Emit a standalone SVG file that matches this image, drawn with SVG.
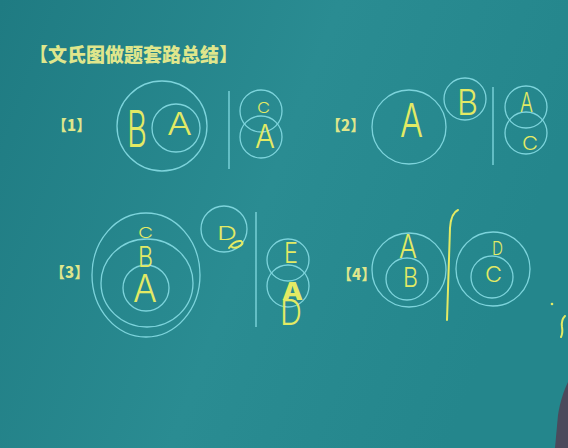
<svg xmlns="http://www.w3.org/2000/svg" width="568" height="448" viewBox="0 0 568 448">
<defs>
<linearGradient id="bg" x1="0" y1="0" x2="1" y2="0.3">
<stop offset="0" stop-color="#1f7b82"/>
<stop offset="0.55" stop-color="#2a8c92"/>
<stop offset="1" stop-color="#24868c"/>
</linearGradient>
<style>
.c{fill:none;stroke:#7dd4dc;stroke-width:1.3}
.v{fill:none;stroke:#7dd4dc;stroke-width:1.4}
.h{fill:#e3ea64;font-family:Inter,"Open Sans","DejaVu Sans",sans-serif;font-weight:300}
.t{fill:#dfe68c;font-family:"Noto Sans CJK SC","Noto Sans CJK JP",sans-serif;font-weight:900}
.m{fill:none;stroke:#e3ea64;stroke-width:2;stroke-linecap:round}
</style>
</defs>
<rect width="568" height="448" fill="url(#bg)"/>
<text class="t" x="29" y="62" font-size="19">【文氏图做题套路总结】</text>
<g id="d1">
<text class="t" x="52" y="131" font-size="15">【1】</text>
<circle class="c" cx="162" cy="126" r="45"/>
<circle class="c" cx="176" cy="128" r="24"/>
<text class="h" x="127" y="147" font-size="50" textLength="20" lengthAdjust="spacingAndGlyphs">B</text>
<text class="h" x="167" y="135" font-size="31" textLength="25" lengthAdjust="spacingAndGlyphs">A</text>
<circle class="c" cx="261" cy="111" r="21"/>
<circle class="c" cx="261" cy="137" r="21"/>
<text class="h" x="257" y="113" font-size="14" textLength="13" lengthAdjust="spacingAndGlyphs">C</text>
<text class="h" x="255" y="148" font-size="32" textLength="20" lengthAdjust="spacingAndGlyphs">A</text>
</g>
<g id="d2">
<text class="t" x="326" y="131" font-size="15">【2】</text>
<circle class="c" cx="409" cy="127" r="37"/>
<text class="h" x="400" y="137" font-size="47" textLength="23" lengthAdjust="spacingAndGlyphs">A</text>
<circle class="c" cx="465" cy="99" r="21"/>
<text class="h" x="457" y="115" font-size="35" textLength="21" lengthAdjust="spacingAndGlyphs">B</text>
<circle class="c" cx="526" cy="107" r="21"/>
<circle class="c" cx="526" cy="133" r="21"/>
<text class="h" x="520" y="112" font-size="27" textLength="13" lengthAdjust="spacingAndGlyphs">A</text>
<text class="h" x="522" y="150" font-size="18" textLength="16" lengthAdjust="spacingAndGlyphs">C</text>
</g>
<g id="d3">
<text class="t" x="50" y="278" font-size="15">【3】</text>
<ellipse class="c" cx="146" cy="275" rx="54" ry="62"/>
<ellipse class="c" cx="147" cy="283" rx="46" ry="44"/>
<circle class="c" cx="146" cy="288" r="23"/>
<text class="h" x="138" y="238" font-size="14" textLength="15" lengthAdjust="spacingAndGlyphs">C</text>
<text class="h" x="138" y="267" font-size="28" textLength="15" lengthAdjust="spacingAndGlyphs">B</text>
<text class="h" x="133" y="302" font-size="38" textLength="24" lengthAdjust="spacingAndGlyphs">A</text>
<circle class="c" cx="224" cy="229" r="23"/>
<text class="h" x="217" y="240" font-size="18" textLength="20" lengthAdjust="spacingAndGlyphs">D</text>
<path class="m" d="M229,248 Q234,240 241,241 Q245,244 238,247 Q233,249 231,246" stroke-width="1.6"/>
<circle class="c" cx="288" cy="260" r="21"/>
<circle class="c" cx="288" cy="286" r="21"/>
<text class="h" x="284" y="263" font-size="28" textLength="14" lengthAdjust="spacingAndGlyphs">E</text>
<text class="h" x="282" y="300" font-size="24" textLength="21" lengthAdjust="spacingAndGlyphs" style="font-weight:800">A</text>
<text class="h" x="280" y="325" font-size="35" textLength="22" lengthAdjust="spacingAndGlyphs">D</text>
</g>
<g id="d4">
<text class="t" x="337" y="280" font-size="15">【4】</text>
<circle class="c" cx="409" cy="270" r="37"/>
<circle class="c" cx="407" cy="279" r="21"/>
<text class="h" x="399" y="258" font-size="32" textLength="18" lengthAdjust="spacingAndGlyphs">A</text>
<text class="h" x="403" y="287" font-size="27" textLength="15" lengthAdjust="spacingAndGlyphs">B</text>
<circle class="c" cx="493" cy="269" r="37"/>
<circle class="c" cx="492" cy="277" r="21"/>
<text class="h" x="492" y="255" font-size="18" textLength="11" lengthAdjust="spacingAndGlyphs">D</text>
<text class="h" x="485" y="282" font-size="21" textLength="17" lengthAdjust="spacingAndGlyphs">C</text>
</g>
<g id="connectors">
<line class="v" x1="229" y1="91" x2="229" y2="169"/>
<line class="v" x1="493" y1="87" x2="493" y2="165"/>
<line class="v" x1="256" y1="212" x2="256" y2="327"/>
<path class="m" d="M458,210 Q451,213 450,228 L447,320" stroke-width="2.4"/>
</g>
<g id="marks">
<circle cx="552" cy="304" r="1.3" fill="#e3ea64"/>
<path class="m" d="M565,316 Q561,320 562,327 Q563,333 561,337" stroke-width="1.6"/>
<path d="M568,382 C564,390 560,402 558,415 L555,448 L568,448 Z" fill="#4b4a5c"/>
</g>
</svg>
